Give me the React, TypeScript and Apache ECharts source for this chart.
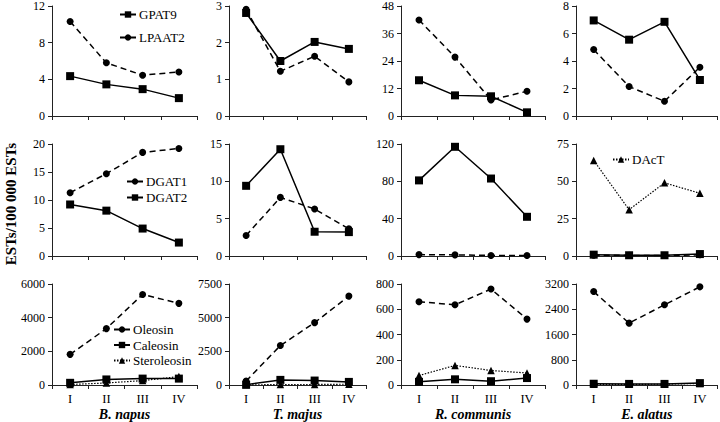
import React, { useEffect, useRef } from "react";
import * as echarts from "echarts";

const stages = ["I", "II", "III", "IV"];
const species = ["B. napus", "T. majus", "R. communis", "E. alatus"];

// Row 1: GPAT9 / LPAAT2
const gpat9 = [
  [4.35, 3.45, 2.93, 1.95],
  [2.81, 1.5, 2.02, 1.83],
  [15.6, 9.0, 8.6, 1.6],
  [6.95, 5.55, 6.85, 2.62],
];
const lpaat2 = [
  [10.3, 5.8, 4.45, 4.8],
  [2.91, 1.22, 1.63, 0.93],
  [41.9, 25.7, 7.0, 10.8],
  [4.83, 2.14, 1.07, 3.55],
];
// Row 2: DGAT1 / DGAT2 / DAcT
const dgat1 = [
  [11.3, 14.7, 18.5, 19.2],
  [2.75, 7.85, 6.3, 3.65],
  [1.5, 1.2, 0.6, 0.5],
  [0.6, 0.4, 0.3, 0.8],
];
const dgat2 = [
  [9.2, 8.1, 4.9, 2.4],
  [9.4, 14.3, 3.25, 3.2],
  [81, 117, 83, 42],
  [0.9, 0.5, 0.5, 1.3],
];
const dact = [64, 31, 49, 42];
// Row 3: Oleosin / Caleosin / Steroleosin
const oleosin = [
  [1820, 3350, 5380, 4850],
  [300, 2930, 4630, 6600],
  [660, 635, 760, 522],
  [2960, 1960, 2540, 3110],
];
const caleosin = [
  [130, 330, 380, 380],
  [20, 380, 330, 230],
  [25, 45, 30, 55],
  [40, 35, 35, 60],
];
const steroleosin = [
  [30, 120, 260, 500],
  [10, 30, 40, 60],
  [75, 155, 115, 95],
  [20, 20, 25, 50],
];

const yMax = [
  [12, 3, 48, 8],
  [20, 15, 120, 75],
  [6000, 7500, 800, 3200],
];
const yStep = [
  [4, 1, 12, 2],
  [5, 5, 40, 25],
  [2000, 2500, 200, 800],
];

const FONT = "Liberation Serif";

export default function App() {
  const ref = useRef<HTMLDivElement>(null);
  useEffect(() => {
    if (!ref.current) return;
    const chart = echarts.init(ref.current, undefined, { renderer: "svg" });

    const colLeft = [52, 229, 401, 576];
    const colWidth = [145, 137, 144, 141.6];
    const rowTop = [4, 144, 284];
    const rowHeight = [112, 112, 101];

    const grids: any[] = [];
    const xAxes: any[] = [];
    const yAxes: any[] = [];
    const series: any[] = [];

    const axisLine = { show: true, lineStyle: { color: "#222", width: 1 } };
    const axisTick = { show: true, length: 4, lineStyle: { color: "#222", width: 1 } };

    const solid = (name: string, data: number[], idx: number) => ({
      name, type: "line", data, xAxisIndex: idx, yAxisIndex: idx,
      symbol: "rect", symbolSize: 8,
      lineStyle: { color: "#000", width: 1.5, type: "solid" },
      itemStyle: { color: "#000" }, z: 3,
    });
    const dashed = (name: string, data: number[], idx: number) => ({
      name, type: "line", data, xAxisIndex: idx, yAxisIndex: idx,
      symbol: "circle", symbolSize: 7,
      lineStyle: { color: "#000", width: 1.5, type: [6, 4] },
      itemStyle: { color: "#000" }, z: 2,
    });
    const dotted = (name: string, data: number[], idx: number) => ({
      name, type: "line", data, xAxisIndex: idx, yAxisIndex: idx,
      symbol: "triangle", symbolSize: 7.5,
      lineStyle: { color: "#000", width: 1.2, type: [1.5, 1.5] },
      itemStyle: { color: "#000" }, z: 2,
    });

    for (let r = 0; r < 3; r++) {
      for (let c = 0; c < 4; c++) {
        const idx = r * 4 + c;
        grids.push({
          left: colLeft[c], top: rowTop[r], width: colWidth[c], height: rowHeight[r],
        });
        xAxes.push({
          type: "category", gridIndex: idx, data: stages, boundaryGap: true,
          axisLine, axisTick,
          axisLabel: {
            show: r === 2, color: "#000", fontFamily: FONT, fontSize: 12.5, margin: 7,
          },
          name: r === 2 ? species[c] : "",
          nameLocation: "middle", nameGap: 22,
          nameTextStyle: {
            color: "#000", fontFamily: FONT, fontSize: 14, fontWeight: "bold", fontStyle: "italic",
          },
        });
        yAxes.push({
          type: "value", gridIndex: idx, min: 0, max: yMax[r][c], interval: yStep[r][c],
          axisLine, axisTick, splitLine: { show: false },
          axisLabel: {
            color: "#000", fontFamily: FONT, fontSize: 12, margin: 7,
            formatter: (v: number) => String(v),
          },
        });
        if (r === 0) {
          series.push(dashed("LPAAT2", lpaat2[c], idx));
          series.push(solid("GPAT9", gpat9[c], idx));
        } else if (r === 1) {
          series.push(dashed("DGAT1", dgat1[c], idx));
          series.push(solid("DGAT2", dgat2[c], idx));
          if (c === 3) series.push(dotted("DAcT", dact, idx));
        } else {
          series.push(dashed("Oleosin", oleosin[c], idx));
          series.push(solid("Caleosin", caleosin[c], idx));
          series.push(dotted("Steroleosin", steroleosin[c], idx));
        }
      }
    }

    const legendBase = {
      orient: "vertical", padding: 0, itemWidth: 16, itemHeight: 8, itemGap: 4,
      textStyle: { color: "#000", fontFamily: FONT, fontSize: 13, padding: [0, 0, 0, -2] },
      selectedMode: false,
    };

    chart.setOption({
      animation: false,
      backgroundColor: "#fff",
      grid: grids,
      xAxis: xAxes,
      yAxis: yAxes,
      series,
      legend: [
        { ...legendBase, left: 119, top: 8, itemGap: 10, data: ["GPAT9", "LPAAT2"] },
        { ...legendBase, left: 126, top: 175, itemGap: 3, data: ["DGAT1", "DGAT2"] },
        { ...legendBase, left: 612, top: 153, data: ["DAcT"] },
        { ...legendBase, left: 113, top: 323, itemGap: 2.5, data: ["Oleosin", "Caleosin", "Steroleosin"] },
      ],
      graphic: [
        {
          type: "text", x: 11, y: 204, rotation: Math.PI / 2,
          style: {
            text: "ESTs/100 000 ESTs", fill: "#000", fontFamily: FONT,
            fontSize: 15, fontWeight: "bold", align: "center", verticalAlign: "middle",
          },
        },
      ],
    });
    return () => chart.dispose();
  }, []);
  return (
    <div
      ref={ref}
      style={{ position: "fixed", left: 0, top: 0, width: 720, height: 422, background: "#fff" }}
    />
  );
}
